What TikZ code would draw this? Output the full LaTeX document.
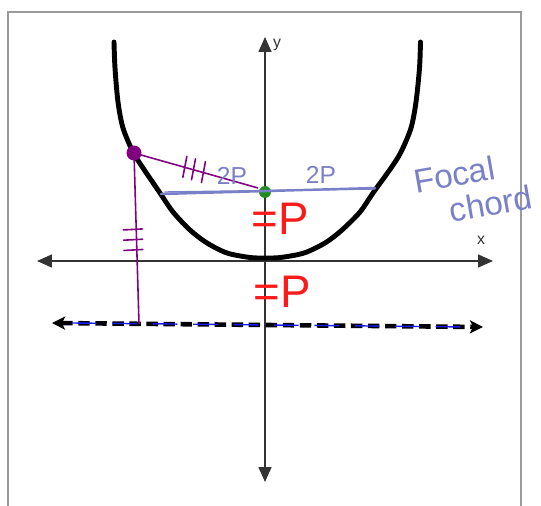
\documentclass[tikz,border=0pt]{standalone}
\usepackage{fontspec}
\setmainfont{Liberation Sans}
\usepackage{xcolor}
\usepackage{tikz}
\usetikzlibrary{arrows.meta,positioning,calc}
\definecolor{axisgray}{HTML}{333333}
\definecolor{framegray}{HTML}{9A9A9A}
\definecolor{chordblue}{HTML}{7A80C8}
\definecolor{markpurple}{HTML}{800080}
\definecolor{focusgreen}{HTML}{1E8C1E}
\definecolor{penred}{HTML}{FF1A1A}
\definecolor{penblue}{HTML}{1A1AFF}
\tikzset{
  frame/.style={draw=framegray, line width=1.1pt},
  axisline/.style={draw=axisgray, line width=0.9pt, {Triangle[length=3mm,width=2.6mm]}-{Triangle[length=3mm,width=2.6mm]}},
  axislabel/.style={text=axisgray, inner sep=0pt, font=\fontsize{9}{10}\selectfont},
  parabola/.style={draw=black, line width=2.8pt, line cap=round},
  directrix/.style={draw=black, line width=2.6pt, dash pattern=on 6.5pt off 3.2pt, {Stealth[length=2.6mm,width=2.6mm,inset=0.6mm]}-{Stealth[length=2.6mm,width=2.6mm,inset=0.6mm]}},
  penline/.style={draw=penblue, line width=0.8pt, dash pattern=on 14pt off 9pt},
  chordline/.style={draw=chordblue, line width=1.4pt, line cap=round},
  purpleline/.style={draw=markpurple, line width=0.9pt},
  tickmark/.style={draw=markpurple, line width=0.9pt, line cap=round},
  ptdot/.style={circle, fill=markpurple, minimum size=0.3cm, inner sep=0pt},
  focusdot/.style={circle, fill=focusgreen, minimum size=0.24cm, inner sep=0pt},
  handlabel/.style={text=chordblue, inner sep=0pt, align=left, font=\fontsize{19}{20}\selectfont},
  smallhand/.style={text=chordblue, inner sep=0pt, font=\fontsize{14}{16}\selectfont},
  redlabel/.style={text=penred, inner sep=0pt, font=\fontsize{26}{28}\selectfont}
}

\begin{document}
\begin{tikzpicture}[x=0.02cm, y=-0.02cm]
  \useasboundingbox (0,0) rectangle (541,506);
  \draw[frame] (8,507) -- (8,12) -- (521,12) -- (521,507);

  % axes
  \coordinate (xl) at (37,261);
  \coordinate (xr) at (493,261);
  \coordinate (yt) at (265,37);
  \coordinate (yb) at (265,482);
  \draw[axisline] (xl) -- (xr);
  \draw[axisline] (yb) -- (yt);
  \node[axislabel] (ylab) at (277,45) {y};
  \node[axislabel] (xlab) at (481,240) {x};

  % parabola
  \draw[parabola] plot[smooth, tension=0.5] coordinates {(114,42) (115,68) (118,102) (123,128) (133,152) (143,168) (160,193) (173,212) (190,230) (207,243) (227,253) (250,257.5) (265,258) (280.5,257.5) (304,253) (325,243) (342,230) (360,212) (373,193) (391,168) (401,152) (411,128) (416,102) (419.5,68) (420.5,42)};

  % directrix
  \coordinate (dl) at (52,323);
  \coordinate (dr) at (483,327);
  \draw[directrix] (dl) -- (dr);
  \draw[penline] ($(dl)+(20,0)$) -- ($(dr)+(-14,0)$);

  % focus and focal chord
  \node[focusdot] (F) at (265,192) {};
  \coordinate (cl) at (161,194);
  \coordinate (cr) at (375,188);
  \draw[chordline] (cl) -- (cr);
  \draw[chordline, line width=0.8pt] ($(cl)+(4,-2)$) -- ($(cr)+(0,1)$);

  % point on the parabola
  \node[ptdot] (pt) at (134,153) {};
  \coordinate (fend) at (258,188);
  \coordinate (foot) at (139,324);
  \draw[purpleline] (pt.center) -- (fend);
  \draw[purpleline] (pt.center) -- (foot);
  \foreach \t in {0.41,0.48,0.56}
    \draw[tickmark] ($(pt.center)!\t!(fend)+(-2,10)$) -- ($(pt.center)!\t!(fend)+(2,-11)$);
  \foreach \t in {0.45,0.51,0.57}
    \draw[tickmark] ($(pt.center)!\t!(foot)+(-13,0)$) -- ($(pt.center)!\t!(foot)+(6,-1)$);

  % labels
  \node[smallhand] (twopl) at (232,176) {2P};
  \node[smallhand] (twopr) at (321,175) {2P};
  \node[redlabel] (eqpu) at (280,219) {=P};
  \node[redlabel] (eqpl) at (282,292) {=P};
  \node[handlabel, rotate=10] (focal) at (473,189) {Focal\\\hspace*{0.9em}chord};
\end{tikzpicture}
\end{document}
